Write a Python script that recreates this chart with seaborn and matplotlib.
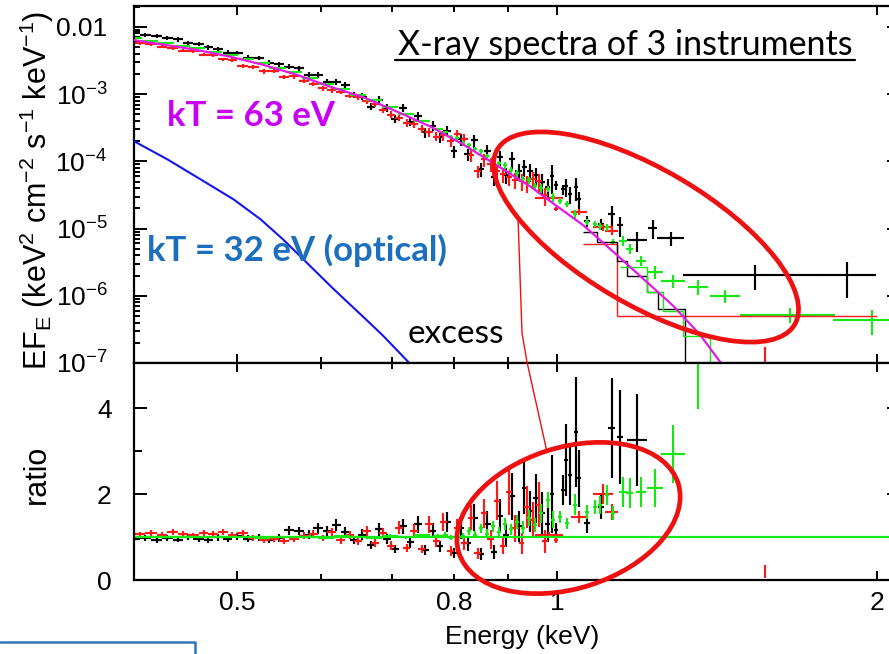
import numpy as np
import pandas as pd
import seaborn as sns
import matplotlib
matplotlib.use("Agg")
import matplotlib.pyplot as plt
from matplotlib.patches import Ellipse
from matplotlib.ticker import FixedLocator, FixedFormatter, NullFormatter

# ---------------- data ----------------
# instrument 1 (black)
black_energy = [0.400, 0.410, 0.420, 0.430, 0.440, 0.450, 0.460, 0.470, 0.480, 0.490,
                0.500, 0.512, 0.524, 0.536, 0.548, 0.560, 0.572, 0.584, 0.596, 0.608,
                0.620, 0.632, 0.644, 0.656, 0.668, 0.680, 0.692, 0.704, 0.716, 0.728,
                0.740, 0.752, 0.764, 0.776, 0.788, 0.800, 0.812, 0.824, 0.836, 0.848,
                0.860, 0.872, 0.884, 0.896, 0.908, 0.920, 0.932, 0.944, 0.956, 0.968,
                0.980, 0.989, 0.998, 1.013, 1.020, 1.029, 1.042, 1.049, 1.067, 1.100,
                1.126, 1.146, 1.189, 1.231, 1.280, 1.536, 1.874]
black_logflux = [-2.075, -2.125, -2.128, -2.170, -2.185, -2.235, -2.255, -2.305, -2.330, -2.382,
                 -2.390, -2.458, -2.462, -2.532, -2.552, -2.590, -2.612, -2.708, -2.716, -2.815,
                 -2.815, -2.859, -3.007, -3.037, -3.185, -3.081, -3.200, -3.363, -3.200, -3.407,
                 -3.319, -3.570, -3.467, -3.644, -3.541, -3.852, -3.674, -3.896, -3.689, -4.119,
                 -3.852, -4.237, -3.941, -4.207, -3.970, -4.148, -4.089, -4.148, -4.207, -4.311,
                 -4.385, -4.222, -4.356, -4.415, -4.370, -4.489, -4.385, -4.563, -4.889, -4.933,
                 -4.785, -4.948, -5.170, -4.993, -5.141, -5.689, -5.689]
black_ratio = [0.95, 0.97, 0.92, 0.98, 0.94, 1.00, 0.96, 0.93, 0.99, 0.95,
               1.02, 0.96, 0.99, 0.94, 0.98, 1.16, 1.14, 1.05, 1.20, 1.15,
               1.28, 1.12, 0.93, 1.05, 0.82, 1.18, 0.95, 0.72, 1.25, 0.88,
               1.30, 0.70, 1.15, 0.78, 1.35, 0.62, 1.20, 0.85, 1.45, 0.60,
               1.30, 0.65, 1.50, 1.05, 1.95, 1.25, 2.15, 1.60, 1.90, 1.55,
               1.30, 2.00, 1.16, 2.09, 2.79, 2.44, 3.44, 2.37, 1.33, 1.70,
               3.53, 3.33, 3.26, 7.7, 9.0, 15.0, 40.0]
black_relerr = [0.07, 0.07, 0.07, 0.07, 0.07, 0.07, 0.07, 0.08, 0.08, 0.08,
                0.08, 0.08, 0.08, 0.09, 0.09, 0.09, 0.09, 0.10, 0.10, 0.10,
                0.11, 0.11, 0.11, 0.12, 0.12, 0.13, 0.13, 0.14, 0.14, 0.15,
                0.15, 0.16, 0.16, 0.17, 0.18, 0.19, 0.20, 0.21, 0.22, 0.23,
                0.24, 0.25, 0.26, 0.27, 0.28, 0.29, 0.29, 0.30, 0.30, 0.32,
                0.32, 0.45, 0.15, 0.17, 0.30, 0.28, 0.37, 0.28, 0.18, 0.17,
                0.33, 0.33, 0.33, 0.30, 0.25, 0.40, 0.55]
black_halfbin = [0.005] * 10 + [0.006] * 41 + [0.004, 0.004, 0.004, 0.004, 0.004, 0.004, 0.004, 0.006,
                                               0.008, 0.008, 0.008, 0.025, 0.012, 0.037, 0.222, 0.122]

# instrument 2 (red)
red_energy = [0.405, 0.415, 0.425, 0.435, 0.445, 0.455, 0.465, 0.475, 0.485, 0.495,
              0.506, 0.518, 0.530, 0.542, 0.554, 0.566, 0.578, 0.590, 0.602, 0.614,
              0.626, 0.638, 0.650, 0.662, 0.674, 0.686, 0.698, 0.710, 0.722, 0.734,
              0.746, 0.758, 0.770, 0.782, 0.794, 0.806, 0.818, 0.830, 0.842, 0.854,
              0.866, 0.878, 0.890, 0.902, 0.914, 0.926, 0.938, 0.950, 0.962, 0.974,
              0.983, 0.998, 1.049, 1.105, 1.126, 1.570]
red_logflux = [-2.245, -2.258, -2.292, -2.318, -2.352, -2.362, -2.410, -2.422, -2.484, -2.496,
               -2.575, -2.598, -2.662, -2.657, -2.738, -2.731, -2.797, -2.849, -2.914, -2.940,
               -2.963, -3.022, -3.037, -3.096, -3.141, -3.230, -3.304, -3.348, -3.422, -3.437,
               -3.511, -3.570, -3.630, -3.615, -3.704, -3.600, -3.674, -3.911, -4.148, -3.970,
               -4.044, -4.148, -4.193, -4.237, -4.281, -4.296, -4.326, -4.267, -4.296, -4.504,
               -4.548, -4.711, -4.756, -4.978, -5.037, -7.000]
red_ratio = [1.06, 1.10, 1.05, 1.12, 1.08, 1.04, 1.10, 1.07, 1.12, 1.05,
             1.09, 0.97, 0.93, 0.96, 0.91, 0.95, 1.03, 1.08, 0.98, 1.12,
             0.92, 1.05, 0.90, 1.15, 0.85, 1.10, 0.80, 1.22, 0.75, 1.15,
             0.72, 1.30, 0.90, 1.35, 0.68, 1.20, 0.85, 1.45, 0.62, 1.55,
             0.95, 1.85, 0.80, 2.05, 1.20, 0.85, 1.70, 1.40, 1.75, 0.90,
             1.05, 0.93, 1.47, 2.00, 1.58, 0.20]
red_relerr = [0.06, 0.06, 0.06, 0.06, 0.06, 0.06, 0.06, 0.06, 0.06, 0.07,
              0.07, 0.07, 0.07, 0.07, 0.07, 0.08, 0.08, 0.08, 0.08, 0.09,
              0.09, 0.09, 0.10, 0.10, 0.11, 0.11, 0.12, 0.12, 0.13, 0.13,
              0.14, 0.15, 0.15, 0.16, 0.17, 0.18, 0.19, 0.20, 0.21, 0.22,
              0.23, 0.24, 0.25, 0.26, 0.27, 0.28, 0.29, 0.29, 0.30, 0.30,
              0.06, 0.07, 0.10, 0.12, 0.12, 0.75]
red_halfbin = [0.005] * 10 + [0.006] * 40 + [0.030, 0.004, 0.018, 0.025, 0.016, 0.0]

# instrument 3 (green)
green_energy = [0.400, 0.414, 0.429, 0.444, 0.459, 0.476, 0.493, 0.510, 0.528, 0.546,
                0.566, 0.586, 0.606, 0.628, 0.650, 0.673, 0.696, 0.721, 0.746, 0.773,
                0.785, 0.795, 0.805, 0.816, 0.826, 0.837, 0.848, 0.859, 0.871, 0.882,
                0.894, 0.905, 0.917, 0.929, 0.941, 0.953, 0.966, 0.981, 0.991, 1.006,
                1.022, 1.040, 1.067, 1.086, 1.098, 1.114, 1.129, 1.154, 1.171, 1.199,
                1.236, 1.286, 1.357, 1.439, 1.657, 1.979]
green_logflux = [-2.170, -2.207, -2.244, -2.281, -2.319, -2.370, -2.422, -2.481, -2.541, -2.607,
                 -2.674, -2.763, -2.844, -2.926, -3.007, -3.089, -3.193, -3.296, -3.400, -3.519,
                 -3.570, -3.630, -3.659, -3.733, -3.763, -3.822, -3.852, -3.926, -3.956, -4.030,
                 -4.059, -4.133, -4.178, -4.267, -4.281, -4.370, -4.400, -4.415, -4.533, -4.593,
                 -4.637, -4.785, -4.904, -4.933, -4.963, -4.978, -5.200, -5.185, -5.304, -5.481,
                 -5.644, -5.778, -5.867, -6.000, -6.281, -6.356]
green_ratio = [0.99, 1.00, 0.99, 1.01, 1.00, 0.99, 1.01, 1.00, 0.98, 1.00,
               0.99, 1.01, 0.98, 1.02, 1.00, 0.98, 1.03, 0.99, 1.04, 1.02,
               1.05, 0.98, 1.10, 1.02, 1.15, 1.05, 1.20, 1.08, 1.25, 1.12,
               1.30, 1.18, 1.35, 1.22, 1.45, 1.28, 1.55, 1.86, 1.40, 1.47,
               1.32, 1.75, 1.58, 1.70, 1.74, 1.98, 1.56, 2.05, 2.02, 2.05,
               2.14, 2.93, 5.30, 8.00, 20.0, 35.0]
green_relerr = [0.02, 0.02, 0.02, 0.02, 0.02, 0.02, 0.02, 0.02, 0.02, 0.02,
                0.02, 0.03, 0.03, 0.03, 0.03, 0.03, 0.04, 0.04, 0.04, 0.05,
                0.06, 0.06, 0.07, 0.07, 0.08, 0.08, 0.09, 0.09, 0.10, 0.10,
                0.11, 0.11, 0.12, 0.12, 0.13, 0.13, 0.14, 0.10, 0.14, 0.10,
                0.10, 0.14, 0.10, 0.10, 0.12, 0.12, 0.10, 0.17, 0.17, 0.17,
                0.21, 0.23, 0.25, 0.22, 0.25, 0.40]
green_halfbin = [0.0070, 0.0073, 0.0075, 0.0078, 0.0080, 0.0083, 0.0086, 0.0089, 0.0092, 0.0096,
                 0.0099, 0.0103, 0.0106, 0.0110, 0.0114, 0.0118, 0.0122, 0.0126, 0.0131, 0.0080] \
                + [0.004] * 17 + [0.004] * 5 \
                + [0.005, 0.005, 0.005, 0.005, 0.006, 0.010, 0.009, 0.013,
                   0.022, 0.033, 0.030, 0.047, 0.170, 0.160]

# folded model steps (histogram models of each instrument)
black_step_edges = [1.058, 1.090, 1.139, 1.164, 1.215, 1.245, 1.320, 1.363]
black_step_logflux = [-5.052, -5.200, -5.481, -5.704, -5.941, -6.193, -9.0]
red_step_edges = [1.058, 1.139, 2.000]
red_step_logflux = [-5.230, -6.296]
green_step_edges = [1.146, 1.215, 1.258, 1.314, 1.393, 1.423]
green_step_logflux = [-5.570, -5.941, -6.222, -6.593, -9.0]

# unfolded blackbody models
hot_energy = [0.399, 0.428, 0.458, 0.493, 0.529, 0.569, 0.612, 0.659, 0.707, 0.760, 0.816,
              0.878, 0.943, 1.000, 1.058, 1.114, 1.197, 1.286, 1.363, 1.423, 1.455]
hot_logflux = [-2.193, -2.267, -2.341, -2.444, -2.563, -2.711, -2.889, -3.052, -3.259, -3.481,
               -3.748, -4.059, -4.370, -4.667, -4.948, -5.259, -5.704, -6.148, -6.578, -6.978, -7.156]
cool_energy = [0.400, 0.430, 0.462, 0.496, 0.526, 0.552, 0.573, 0.616, 0.663, 0.686, 0.724, 0.740]
cool_logflux = [-3.70, -3.97, -4.267, -4.563, -4.86, -5.156, -5.407, -5.896, -6.37, -6.593, -6.978, -7.17]

ratio_reference = 1.0

ytick_values = [1e-7, 1e-6, 1e-5, 1e-4, 1e-3, 1e-2]
ytick_labels = [r'$\mathregular{10^{-7}}$', r'$\mathregular{10^{-6}}$', r'$\mathregular{10^{-5}}$',
                r'$\mathregular{10^{-4}}$', r'$\mathregular{10^{-3}}$', '0.01']
xtick_major = [0.5, 1, 2]
xtick_major_labels = ['0.5', '1', '2']
xtick_minor = [0.6, 0.7, 0.8, 0.9]
xtick_minor_labels = ['', '', '0.8', '']
rtick_major = [0, 2, 4]
rtick_labels = ['0', '2', '4']
rtick_minor = [1, 3]

# ---------------- style ----------------
sns.set_theme(style='ticks')
plt.rcParams['font.family'] = ['Liberation Sans', 'DejaVu Sans']
plt.rcParams['mathtext.fontset'] = 'custom'
plt.rcParams['mathtext.rm'] = 'Liberation Sans'
plt.rcParams['mathtext.it'] = 'Liberation Sans:italic'
plt.rcParams['axes.edgecolor'] = 'black'
plt.rcParams['text.color'] = 'black'
plt.rcParams['xtick.color'] = 'black'
plt.rcParams['ytick.color'] = 'black'
plt.rcParams['axes.labelcolor'] = 'black'

BLACK, RED, GREEN = '#000000', '#ff1a1a', '#16e816'
MAGENTA, BLUE = '#e41ae4', '#1414f0'

W, H = 889, 654
fig = plt.figure(figsize=(W / 100, H / 100), dpi=100)


def rect(x0, y0, x1, y1):
    return [x0 / W, 1 - y1 / H, (x1 - x0) / W, (y1 - y0) / H]


ax1 = fig.add_axes(rect(134, 6, 899.5, 363))
ax2 = fig.add_axes(rect(134, 363, 899.5, 580))


def crosses(ax, energy, values, relerr, halfbin, color, z, lw=1.55):
    values = np.asarray(values, dtype=float)
    ax.errorbar(energy, values, xerr=halfbin, yerr=values * np.asarray(relerr),
                fmt='none', ecolor=color, elinewidth=lw, capsize=0, zorder=z)


ax1.set_xscale('log')
ax1.set_yscale('log')
ax2.set_xscale('log')

# top panel: spectra
crosses(ax1, black_energy, 10 ** np.array(black_logflux), black_relerr, black_halfbin, BLACK, 2)
crosses(ax1, red_energy, 10 ** np.array(red_logflux), red_relerr, red_halfbin, RED, 2.1)
crosses(ax1, green_energy, 10 ** np.array(green_logflux), green_relerr, green_halfbin, GREEN, 2.2)
ax1.stairs(10 ** np.array(red_step_logflux), red_step_edges, baseline=None, color=RED, lw=1.0, zorder=2.5)
ax1.stairs(10 ** np.array(black_step_logflux), black_step_edges, baseline=None, color=BLACK, lw=1.0, zorder=2.5)
ax1.stairs(10 ** np.array(green_step_logflux), green_step_edges, baseline=None, color=GREEN, lw=1.0, zorder=2.5)

hot = pd.DataFrame({'energy': hot_energy, 'flux': 10 ** np.array(hot_logflux)})
cool = pd.DataFrame({'energy': cool_energy, 'flux': 10 ** np.array(cool_logflux)})
sns.lineplot(data=hot, x='energy', y='flux', ax=ax1, color=MAGENTA, lw=1.6,
             sort=False, estimator=None, zorder=3)
sns.lineplot(data=cool, x='energy', y='flux', ax=ax1, color=BLUE, lw=1.5,
             sort=False, estimator=None, zorder=3)

# bottom panel: ratios
crosses(ax2, black_energy, black_ratio, black_relerr, black_halfbin, BLACK, 2)
crosses(ax2, red_energy, red_ratio, red_relerr, red_halfbin, RED, 2.1)
crosses(ax2, green_energy, green_ratio, green_relerr, green_halfbin, GREEN, 2.2)
ax2.axhline(ratio_reference, color=GREEN, lw=1.6, zorder=2.3)

# axes, ticks
for ax in (ax1, ax2):
    ax.set_xlim(0.4, 2.1)
    ax.xaxis.set_major_locator(FixedLocator(xtick_major))
    ax.xaxis.set_minor_locator(FixedLocator(xtick_minor))
    ax.tick_params(which='both', direction='in', top=True, right=True, width=1.4,
                   labelsize=19)
    ax.tick_params(axis='x', which='major', length=6.5, pad=8)
    ax.tick_params(axis='x', which='minor', length=4.5, pad=8)
    for s in ax.spines.values():
        s.set_linewidth(1.6)
        s.set_color('black')
    ax.set_xlabel('')
    ax.set_ylabel('')

ax1.xaxis.set_major_formatter(NullFormatter())
ax1.xaxis.set_minor_formatter(NullFormatter())
ax2.xaxis.set_major_formatter(FixedFormatter(xtick_major_labels))
ax2.xaxis.set_minor_formatter(FixedFormatter(xtick_minor_labels))

ax1.set_ylim(1e-7, 0.0205)
ax1.yaxis.set_major_locator(FixedLocator(ytick_values))
ax1.yaxis.set_major_formatter(FixedFormatter(ytick_labels))
ax1.yaxis.set_minor_locator(FixedLocator(
    [k * 10.0 ** d for d in range(-7, -1) for k in range(2, 10) if k * 10.0 ** d < 0.0205]))
ax1.yaxis.set_minor_formatter(NullFormatter())
ax1.tick_params(axis='y', which='major', length=9.4, pad=19)
ax1.tick_params(axis='y', which='minor', length=4)

ax2.set_ylim(0, 5.05)
ax2.yaxis.set_major_locator(FixedLocator(rtick_major))
ax2.yaxis.set_major_formatter(FixedFormatter(rtick_labels))
ax2.yaxis.set_minor_locator(FixedLocator(rtick_minor))
ax2.yaxis.set_minor_formatter(NullFormatter())
ax2.tick_params(axis='y', which='major', length=9.4, pad=16)
ax2.tick_params(axis='y', which='minor', length=6)

axw = 899.5 - 134
ax1.set_ylabel(r'EF$_{\mathregular{E}}$ (keV$^{\mathregular{2}}$ cm$^{\mathregular{-2}}$ '
               r's$^{\mathregular{-1}}$ keV$^{\mathregular{-1}}$)', fontsize=22,
               va='center', ha='center')
ax1.yaxis.set_label_coords((37 - 134) / axw, (363 - 190) / 357)
ax2.set_ylabel('ratio', fontsize=22, va='center', ha='center')
ax2.yaxis.set_label_coords((37 - 134) / axw, (580 - 474) / 217)
ax2.set_xlabel('Energy (keV)', fontsize=19, va='center', ha='center')
ax2.xaxis.set_label_coords((522 - 134) / axw, (580 - 637) / 217)

# ---------------- annotations (slide overlay) ----------------
ov = fig.add_axes([0, 0, 1, 1], zorder=10)
ov.set_xlim(0, W)
ov.set_ylim(H, 0)
ov.axis('off')
ov.patch.set_alpha(0)

ANN = ['Lato', 'DejaVu Sans']
ov.text(625, 55, 'X-ray spectra of 3 instruments', family=ANN, fontsize=24.5,
        ha='center', va='baseline')
ov.plot([395, 855], [60, 60], color='black', lw=1.6)
ov.text(167, 126, 'kT = 63 eV', family=ANN, fontweight='bold', fontsize=25,
        color='#c800f5', ha='left', va='baseline')
ov.text(147, 261, 'kT = 32 eV (optical)', family=ANN, fontweight='bold', fontsize=25,
        color='#1c6fbd', ha='left', va='baseline')
ov.text(408, 343, 'excess', family=ANN, fontsize=24, ha='left', va='baseline')

ov.add_patch(Ellipse((646, 237), 345, 135, angle=30.5, fill=False, ec='#ee1111', lw=3.4))
ov.add_patch(Ellipse((568.5, 518), 230, 141, angle=-17.6, fill=False, ec='#ee1111', lw=3.4))
ov.plot([518, 522, 527, 547], [217, 333, 362, 452], color='#ee1111', lw=1.0)
ov.plot([0, 195, 195], [642, 642, 660], color='#2e75b6', lw=1.8)

fig.savefig('out.png', dpi=100)
